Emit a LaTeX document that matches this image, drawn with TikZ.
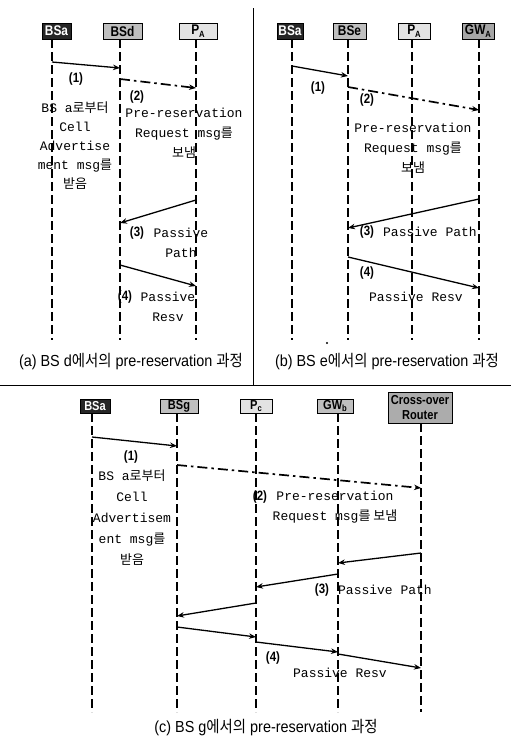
\documentclass[tikz,border=0pt]{standalone}
\usepackage{fontspec}
\usetikzlibrary{arrows.meta,calc}
\setmainfont{Liberation Sans}
\newfontfamily\monofont{Liberation Mono}
\newfontfamily\krfont{Noto Sans CJK KR}
\newfontfamily\capfont[FakeStretch=0.9]{Liberation Sans}
\newfontfamily\krcapfont[FakeStretch=0.9]{Noto Sans CJK KR}
\newfontfamily\hdfont[FakeStretch=0.85]{Liberation Sans}
\newfontfamily\numfont[FakeStretch=0.85]{Liberation Sans}
\newcommand{\K}[1]{{\krfont #1}}
\newcommand{\KC}[1]{{\krcapfont #1}}
\newcommand{\subx}[1]{\raisebox{-2.5pt}{\fontsize{9}{9}\selectfont #1}}
\tikzset{
  hd/.style={draw=black, line width=0.7pt, font=\hdfont\bfseries\fontsize{14}{14}\selectfont, inner sep=0pt, minimum height=16pt},
  hdk/.style={hd, fill=black!85, text=white},
  hdm/.style={hd, fill=gray!50},
  hdl/.style={hd, fill=gray!22},
  life/.style={dash pattern=on 9pt off 4pt, line width=1.1pt},
  msg/.style={-{Stealth[length=7pt,width=5.5pt]}, line width=1.3pt},
  req/.style={-{Stealth[length=7pt,width=5.5pt]}, dash pattern=on 10pt off 4pt on 2.5pt off 4pt, line width=1.7pt},
  mtxt/.style={font=\monofont\fontsize{13}{20}\selectfont, align=center, inner sep=0pt},
  num/.style={font=\numfont\bfseries\fontsize{13.5}{13.5}\selectfont, inner sep=0pt},
  captxt/.style={font=\capfont\fontsize{16}{16}\selectfont, inner sep=0pt},
  rule/.style={line width=1pt}
}
\begin{document}
\begin{tikzpicture}[x=1pt,y=-1pt]
\useasboundingbox[fill=white] (0,0) rectangle (511,739);
% panel dividers
\coordinate (v1) at (253,8); \coordinate (v2) at (253,385);
\coordinate (h1) at (0,385); \coordinate (h2) at (511,385);
\draw[rule] (v1) -- (v2);
\draw[rule] (h1) -- (h2);

% ================= (a) =================
\node[hdk, minimum width=29pt] (a1) at (56.5,31) {BSa};
\node[hdm, minimum width=39pt] (a2) at (122.5,31) {BSd};
\node[hdl, minimum width=38pt] (a3) at (198,31) {P\subx{A}};
\coordinate (a1t) at (52,39);  \coordinate (a1b) at (52,340);
\coordinate (a2t) at (120,39); \coordinate (a2b) at (120,340);
\coordinate (a3t) at (196,39); \coordinate (a3b) at (196,340);
\draw[life] (a1t) -- (a1b);
\draw[life] (a2t) -- (a2b);
\draw[life] (a3t) -- (a3b);
\draw[msg] (a1t |- 0,62) -- (a2t |- 0,68);
\draw[req] (a2t |- 0,79) -- (a3t |- 0,88);
\draw[msg] (a3t |- 0,200) -- (a2t |- 0,223);
\draw[msg] (a2t |- 0,265) -- (a3t |- 0,286);
\node[num] (a1n) at (76,79) {(1)};
\node[num] (a2n) at (137,97) {(2)};
\node[mtxt, font=\monofont\fontsize{13}{19}\selectfont] (a1x) at (75,146) {BS a\K{로부터}\\Cell\\Advertise\\ment msg\K{를}\\\K{받음}};
\node[mtxt] (a2x) at (184,133) {Pre-reservation\\Request msg\K{를}\\\K{보냄}};
\node[num] (a3n) at (137,233) {(3)};
\node[mtxt] (a3x) at (181,243) {Passive\\Path};
\node[num] (a4n) at (125,297) {(4)};
\node[mtxt] (a4x) at (168,307) {Passive\\Resv};
\node[captxt] (acap) at (131,362) {(a) BS d\KC{에서의} pre-reservation \KC{과정}};

% ================= (b) =================
\node[hdk, minimum width=26pt] (b1) at (290,31) {BSa};
\node[hdm, minimum width=33pt] (b2) at (349.5,31) {BSe};
\node[hdl, minimum width=32pt] (b3) at (414,31) {P\subx{A}};
\node[hd, fill=gray!70, minimum width=32pt] (b4) at (478,31) {GW\subx{A}};
\coordinate (b1t) at (292,39); \coordinate (b1b) at (292,340);
\coordinate (b2t) at (348,39); \coordinate (b2b) at (348,340);
\coordinate (b3t) at (412,39); \coordinate (b3b) at (412,340);
\coordinate (b4t) at (479,39); \coordinate (b4b) at (479,340);
\draw[life] (b1t) -- (b1b);
\draw[life] (b2t) -- (b2b);
\draw[life] (b3t) -- (b3b);
\draw[life] (b4t) -- (b4b);
\draw[msg] (b1t |- 0,66) -- (b2t |- 0,76);
\draw[req] (b2t |- 0,87) -- (b4t |- 0,110);
\draw[msg] (b4t |- 0,199) -- (b2t |- 0,228);
\draw[msg] (b2t |- 0,257) -- (b4t |- 0,288);
\node[num] (b1n) at (318,88) {(1)};
\node[num] (b2n) at (367,100) {(2)};
\node[mtxt] (b2x) at (413,148) {Pre-reservation\\Request msg\K{를}\\\K{보냄}};
\node[num] (b3n) at (367,232) {(3)};
\node[mtxt] (b3x) at (430,232) {Passive Path};
\node[num] (b4n) at (367,273) {(4)};
\node[mtxt] (b4x) at (416,297) {Passive Resv};
\fill (327,343) circle (1.2pt);
\node[captxt] (bcap) at (387,362) {(b) BS e\KC{에서의} pre-reservation \KC{과정}};

% ================= (c) =================
\node[hdk, minimum width=30pt, minimum height=14pt, font=\hdfont\bfseries\fontsize{13}{13}\selectfont] (c1) at (95,406) {BSa};
\node[hdm, minimum width=38pt, minimum height=14pt, font=\hdfont\bfseries\fontsize{13}{13}\selectfont] (c2) at (179,406) {BSg};
\node[hdl, minimum width=32pt, minimum height=14pt, font=\hdfont\bfseries\fontsize{13}{13}\selectfont] (c3) at (256,406) {P\subx{c}};
\node[hdm, minimum width=36pt, minimum height=14pt, font=\hdfont\bfseries\fontsize{13}{13}\selectfont] (c4) at (335,406) {GW\subx{b}};
\node[hd, fill=gray!65, minimum width=64pt, minimum height=31pt, align=center, font=\hdfont\bfseries\fontsize{13}{15}\selectfont] (c5) at (420,407.5) {Cross-over\\Router};
\coordinate (c1t) at (92,413);  \coordinate (c1b) at (92,712);
\coordinate (c2t) at (177,413); \coordinate (c2b) at (177,712);
\coordinate (c3t) at (256,413); \coordinate (c3b) at (256,712);
\coordinate (c4t) at (338,413); \coordinate (c4b) at (338,712);
\coordinate (c5t) at (421,423); \coordinate (c5b) at (421,712);
\draw[life] (c1t) -- (c1b);
\draw[life] (c2t) -- (c2b);
\draw[life] (c3t) -- (c3b);
\draw[life] (c4t) -- (c4b);
\draw[life] (c5t) -- (c5b);
\draw[msg] (c1t |- 0,437) -- (c2t |- 0,446);
\draw[req] (c2t |- 0,465) -- (c5t |- 0,488);
\draw[msg] (c5t |- 0,553) -- (c4t |- 0,563);
\draw[msg] (c4t |- 0,574) -- (c3t |- 0,587);
\draw[msg] (c3t |- 0,603) -- (c2t |- 0,616);
\draw[msg] (c2t |- 0,627) -- (c3t |- 0,637);
\draw[msg] (c3t |- 0,642) -- (c4t |- 0,652);
\draw[msg] (c4t |- 0,654) -- (c5t |- 0,668);
\node[num] (c1n) at (131,457) {(1)};
\node[mtxt, font=\monofont\fontsize{13}{21}\selectfont] (c1x) at (132,518) {BS a\K{로부터}\\Cell\\Advertisem\\ent msg\K{를}\\\K{받음}};
\node[num] (c2n) at (260,497) {(2)};
\node[mtxt] (c2x) at (335,507) {Pre-reservation\\Request msg\K{를 보냄}};
\node[num] (c3n) at (322,590) {(3)};
\node[mtxt] (c3x) at (385,590) {Passive Path};
\node[num] (c4n) at (273,658) {(4)};
\node[mtxt] (c4x) at (340,673) {Passive Resv};
\node[captxt] (ccap) at (266,728) {(c) BS g\KC{에서의} pre-reservation \KC{과정}};
\end{tikzpicture}
\end{document}
